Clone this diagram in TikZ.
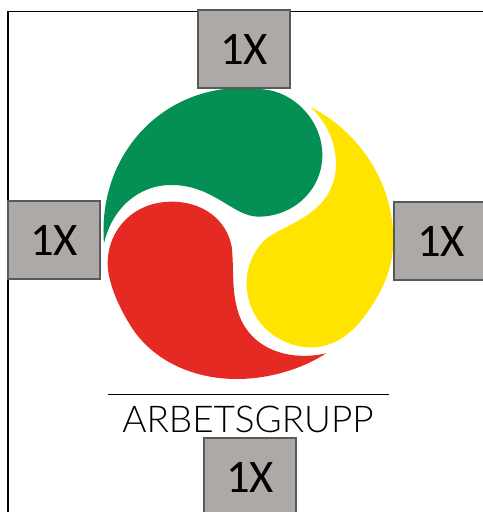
\documentclass[tikz,border=0pt]{standalone}
\usepackage{fontspec}
\setmainfont{Carlito}
\newfontfamily\lightfont{Lato Light}
\definecolor{boxgray}{HTML}{ADA9A7}
\definecolor{boxline}{HTML}{5A5858}
\definecolor{logogreen}{HTML}{048F54}
\definecolor{logored}{HTML}{E52A23}
\definecolor{logoyellow}{HTML}{FFE400}
\tikzset{
  onebox/.style={draw=boxline,line width=0.8pt,fill=boxgray,minimum width=69pt,minimum height=58.5pt,inner sep=0pt,font=\fontsize{35}{35}\selectfont,text=black},
  frameline/.style={draw=black,line width=1.2pt}
}
\begin{document}
\begin{tikzpicture}[x=0.75pt,y=-0.75pt]
\useasboundingbox (0,0) rectangle (483,512);
\draw[frameline] (8,512) -- (8,11.5) -- (483,11.5);
\begin{scope}[shift={(90,80)},x=0.25pt,y=-0.25pt]
\fill[logogreen] (42,490) .. controls (20,210) and (240,-10) .. (520,28)
  .. controls (610,35) and (697,120) .. (697,225)
  .. controls (697,330) and (610,410) .. (505,410)
  .. controls (430,410) and (370,315) .. (245,315)
  .. controls (140,315) and (65,390) .. (42,490) -- cycle;
\fill[logored] (708,820) .. controls (600,845) and (470,810) .. (440,680)
  .. controls (425,620) and (432,560) .. (425,500)
  .. controls (410,420) and (340,365) .. (245,365)
  .. controls (130,365) and (53,450) .. (53,550)
  .. controls (53,610) and (90,690) .. (130,750)
  .. controls (200,850) and (320,897) .. (440,897)
  .. controls (540,897) and (640,865) .. (708,820) -- cycle;
\fill[logoyellow] (660,80) .. controls (710,125) and (738,190) .. (738,250)
  .. controls (738,400) and (590,430) .. (530,475)
  .. controls (490,510) and (470,560) .. (470,610)
  .. controls (470,720) and (560,802) .. (665,802)
  .. controls (740,802) and (795,750) .. (830,700)
  .. controls (880,630) and (910,560) .. (910,480)
  .. controls (910,300) and (800,150) .. (660,80) -- cycle;
\end{scope}
\node[onebox] (top) at (244,49) {1X};
\node[onebox] (left) at (54,240) {1X};
\node[onebox,minimum width=70.5pt] (right) at (441,241) {1X};
\node[onebox] (bottom) at (250,477) {1X};
\coordinate (ruleA) at (108,394.7);
\coordinate (ruleB) at (389,394.7);
\draw[black,line width=0.9pt] (ruleA) -- (ruleB);
\node[anchor=base,inner sep=0pt,font=\lightfont\fontsize{27.7}{28}\selectfont] (caption) at (248,432) {ARBETSGRUPP};
\end{tikzpicture}
\end{document}
